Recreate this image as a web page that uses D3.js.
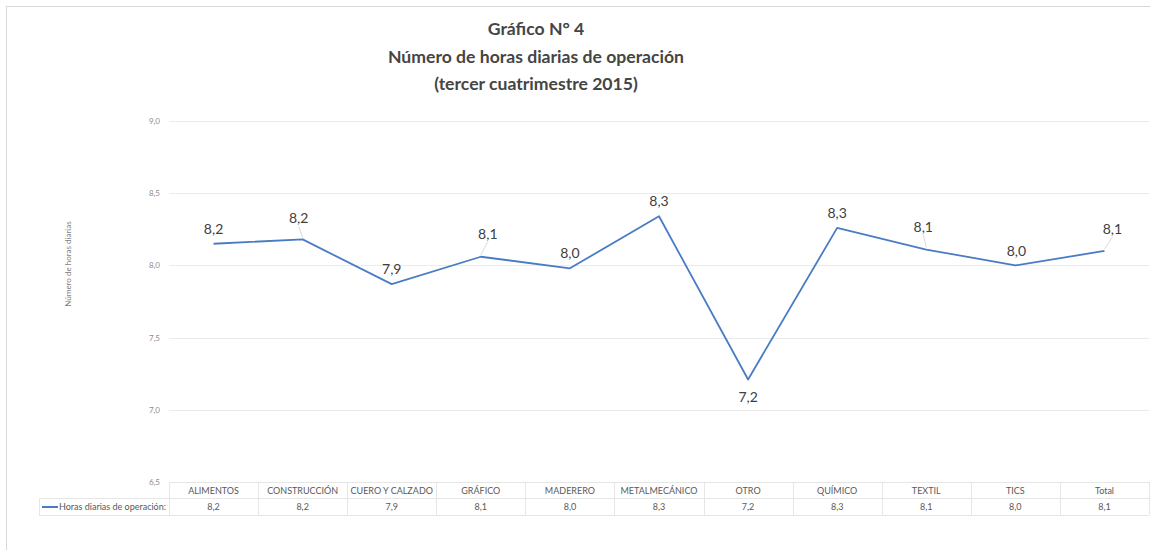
<!DOCTYPE html>
<meta charset="utf-8">
<div id="chart"></div>
<style>
body { margin: 0; background: #fff; font-family: 'Lato', 'Open Sans', sans-serif; }
</style>
<script src="https://d3js.org/d3.v7.min.js"></script>
<script>
var categories = ['ALIMENTOS', 'CONSTRUCCIÓN', 'CUERO Y CALZADO', 'GRÁFICO', 'MADERERO',
  'METALMECÁNICO', 'OTRO', 'QUÍMICO', 'TEXTIL', 'TICS', 'Total'];
var hours = [8.15, 8.18, 7.87, 8.06, 7.98, 8.34, 7.21, 8.26, 8.11, 8.00, 8.10];
var yTicks = [6.5, 7.0, 7.5, 8.0, 8.5, 9.0];
var seriesName = 'Horas diarias de operación:';
var titleLines = ['Gráfico N° 4', 'Número de horas diarias de operación', '(tercer cuatrimestre 2015)'];
var yTitle = 'Número de horas diarias';

var w = 1150, h = 550;
var comma = function(v) { return d3.format('.1f')(v).replace('.', ','); };

var svg = d3.select('#chart').append('svg')
  .attr('width', w)
  .attr('height', h);

// chart frame
svg.append('rect')
  .attr('x', 6.5).attr('y', 6.5)
  .attr('width', 1160).attr('height', 560)
  .style('fill', 'none')
  .style('stroke', '#d9d9d9');

var x = d3.scaleBand().domain(categories).range([169, 1149]);
var y = d3.scaleLinear().domain([6.5, 9.0]).range([482, 121]);

// title
svg.selectAll('.title')
  .data(titleLines)
  .enter()
  .append('text')
  .attr('class', 'title')
  .attr('x', 536)
  .attr('y', function(d, i) { return 35 + i * 27.5; })
  .attr('text-anchor', 'middle')
  .style('font-size', '17.6px')
  .style('font-weight', 'bold')
  .style('fill', '#454545')
  .text(function(d) { return d; });

// gridlines
svg.selectAll('.grid')
  .data(yTicks.slice(1))
  .enter()
  .append('line')
  .attr('x1', 169).attr('x2', 1149)
  .attr('y1', function(d) { return Math.round(y(d)) + 0.5; })
  .attr('y2', function(d) { return Math.round(y(d)) + 0.5; })
  .style('stroke', '#ebebeb');

var yAxis = svg.append('g')
  .attr('transform', 'translate(163,0)')
  .call(d3.axisLeft(y).tickValues(yTicks).tickSize(0).tickFormat(comma));
yAxis.select('.domain').remove();
yAxis.selectAll('text')
  .style('font-family', 'Lato, sans-serif')
  .style('font-size', '8px')
  .style('fill', '#8c8c8c');

svg.append('text')
  .attr('transform', 'translate(71,264) rotate(-90)')
  .attr('text-anchor', 'middle')
  .style('font-size', '8px')
  .style('fill', '#7f7f7f')
  .text(yTitle);

// data table
var rowTop = 482, rowMid = 498, rowBot = 515;
var tbl = svg.append('g').style('stroke', '#e6e6e6');
tbl.append('line').attr('x1', 169).attr('x2', 1149).attr('y1', rowTop + 0.5).attr('y2', rowTop + 0.5);
tbl.append('line').attr('x1', 39).attr('x2', 1149).attr('y1', rowMid + 0.5).attr('y2', rowMid + 0.5);
tbl.append('line').attr('x1', 39).attr('x2', 1149).attr('y1', rowBot + 0.5).attr('y2', rowBot + 0.5);
tbl.append('line').attr('x1', 39.5).attr('x2', 39.5).attr('y1', rowMid).attr('y2', rowBot);
tbl.selectAll('.col')
  .data(categories.concat(['end']))
  .enter()
  .append('line')
  .attr('x1', function(d, i) { return Math.round(169 + i * x.bandwidth()) + 0.5; })
  .attr('x2', function(d, i) { return Math.round(169 + i * x.bandwidth()) + 0.5; })
  .attr('y1', rowTop).attr('y2', rowBot);

svg.selectAll('.cat')
  .data(categories)
  .enter()
  .append('text')
  .attr('x', function(d) { return x(d) + x.bandwidth() / 2; })
  .attr('y', 494)
  .attr('text-anchor', 'middle')
  .style('font-size', '9px')
  .style('fill', '#595959')
  .text(function(d) { return d; });

svg.selectAll('.cell')
  .data(hours)
  .enter()
  .append('text')
  .attr('x', function(d, i) { return x(categories[i]) + x.bandwidth() / 2; })
  .attr('y', 510)
  .attr('text-anchor', 'middle')
  .style('font-size', '9px')
  .style('fill', '#595959')
  .text(comma);

svg.append('line')
  .attr('x1', 42).attr('x2', 58).attr('y1', 507).attr('y2', 507)
  .style('stroke', '#4a7cc4').style('stroke-width', 2);
svg.append('text')
  .attr('x', 166).attr('y', 510)
  .attr('text-anchor', 'end')
  .style('font-size', '9px')
  .style('fill', '#595959')
  .text(seriesName);

// line
var line = d3.line()
  .x(function(d, i) { return x(categories[i]) + x.bandwidth() / 2; })
  .y(function(d) { return y(d); });

svg.append('path')
  .datum(hours)
  .attr('d', line)
  .style('fill', 'none')
  .style('stroke', '#4a7cc4')
  .style('stroke-width', 1.8)
  .style('stroke-linejoin', 'round');

// data label offsets (dx, dy of label baseline from the point), leader flag
var labelPos = [[0, -10, 0], [-4, -16, 1], [0, -10, 0], [7, -18, 1], [0, -10, 0], [0, -10, 0],
  [0, 23, 0], [0, -10, 0], [-3, -18, 1], [1, -9, 0], [8, -17, 1]];

var labels = svg.selectAll('.lbl')
  .data(hours)
  .enter()
  .append('g');

labels.each(function(d, i) {
  if (!labelPos[i][2]) return;
  var px = x(categories[i]) + x.bandwidth() / 2;
  d3.select(this).append('line')
    .attr('x1', px).attr('y1', y(d) - 2)
    .attr('x2', px + labelPos[i][0]).attr('y2', y(d) + labelPos[i][1] + 3)
    .style('stroke', '#d0d0d0')
    .style('stroke-width', 0.8);
});

labels.append('text')
  .attr('x', function(d, i) { return x(categories[i]) + x.bandwidth() / 2 + labelPos[i][0]; })
  .attr('y', function(d, i) { return y(d) + labelPos[i][1]; })
  .attr('text-anchor', 'middle')
  .style('font-size', '14px')
  .style('fill', '#404040')
  .text(comma);
</script>
